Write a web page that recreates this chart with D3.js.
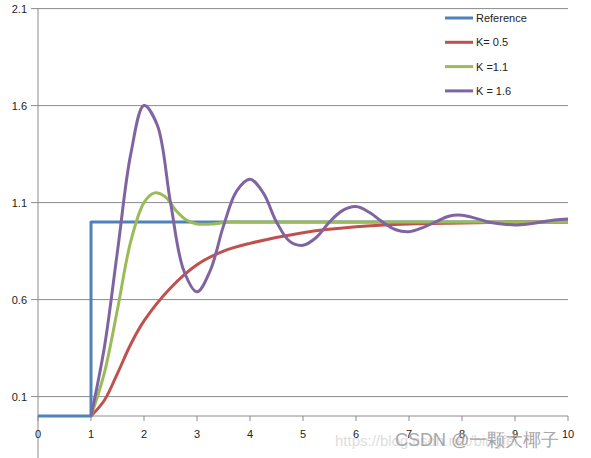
<!DOCTYPE html>
<html lang="en">
<head>
<meta charset="UTF-8" />
<script src="https://d3js.org/d3.v7.min.js"></script>
<style>
  body { margin: 0; background: #fff; font-family: Arial, 'Liberation Sans', sans-serif; }
</style>
</head>
<body>
<svg id="chart" width="591" height="458"></svg>
<script>
const refT = [0, 1, 1, 10];
const refV = [0, 0, 1, 1];
const redT = [1, 1.25, 1.5, 1.75, 2, 2.5, 3, 3.5, 4, 5, 6, 7, 8, 9, 10];
const redV = [0, 0.08, 0.22, 0.37, 0.49, 0.66, 0.78, 0.85, 0.89, 0.945, 0.975, 0.99, 0.995, 1.0, 1.0];
const greenT = [1, 1.25, 1.5, 1.75, 2, 2.2, 2.4, 2.6, 2.8, 3, 3.3, 3.6, 4, 5, 10];
const greenV = [0, 0.22, 0.55, 0.9, 1.1, 1.15, 1.13, 1.06, 1.01, 0.99, 0.99, 1.0, 1.0, 1.0, 1.0];
const purpleT = d3.range(1, 10.001, 0.25);
const purpleV = [0, 0.35, 0.85, 1.35, 1.6, 1.5, 1.1, 0.75, 0.64, 0.75, 0.98, 1.16, 1.22, 1.15, 1.0, 0.9,
  0.88, 0.92, 1.0, 1.06, 1.08, 1.05, 1.0, 0.96, 0.95, 0.97, 1.0, 1.03, 1.035, 1.02, 1.0, 0.99, 0.985, 0.99, 1.0, 1.01, 1.015];
const seriesNames = ["Reference", "K= 0.5", "K =1.1", "K = 1.6"];
const colors = ["#4F81BD", "#C0504D", "#9BBB59", "#8064A2"];
const xTicks = d3.range(0, 11);
const yTicks = [0.1, 0.6, 1.1, 1.6, 2.1];

const svg = d3.select("#chart");
const x = d3.scaleLinear().domain([0, 10]).range([38, 568]);
const y = d3.scaleLinear().domain([0, 2.1]).range([416, 8.6]);

// gridlines
svg.selectAll(".grid").data(yTicks).enter().append("line")
  .attr("x1", 31).attr("x2", 568)
  .attr("y1", d => y(d)).attr("y2", d => y(d))
  .attr("stroke", "#8c8c8c").attr("stroke-width", 1);
svg.selectAll(".ylab").data(yTicks).enter().append("text")
  .attr("x", 27).attr("y", d => y(d) + 4).attr("text-anchor", "end")
  .attr("font-size", 11).attr("fill", "#222").text(d => d.toFixed(1));

// axes
svg.append("line").attr("x1", 38).attr("x2", 38).attr("y1", 8).attr("y2", 458)
  .attr("stroke", "#8c8c8c");
svg.append("line").attr("x1", 38).attr("x2", 568).attr("y1", 416).attr("y2", 416)
  .attr("stroke", "#8c8c8c");
svg.selectAll(".xt").data(xTicks).enter().append("line")
  .attr("x1", d => x(d)).attr("x2", d => x(d)).attr("y1", 416).attr("y2", 421)
  .attr("stroke", "#8c8c8c");
svg.selectAll(".xlab").data(xTicks).enter().append("text")
  .attr("x", d => x(d)).attr("y", 438).attr("text-anchor", "middle")
  .attr("font-size", 11).attr("fill", "#222").text(d => d);

const line = d3.line().x(d => x(d[0])).y(d => y(d[1]));
const smooth = d3.line().x(d => x(d[0])).y(d => y(d[1])).curve(d3.curveCatmullRom);
const data = [
  [refT, refV, line], [redT, redV, smooth], [greenT, greenV, smooth], [purpleT, purpleV, smooth]
];
data.forEach(([ts, vs, gen], i) => {
  svg.append("path").attr("d", gen(ts.map((t, j) => [t, vs[j]])))
    .attr("fill", "none").attr("stroke", colors[i]).attr("stroke-width", 3)
    .attr("stroke-linejoin", "round");
});

// legend
seriesNames.forEach((name, i) => {
  const ly = 18 + i * 24.3;
  svg.append("line").attr("x1", 445).attr("x2", 473).attr("y1", ly).attr("y2", ly)
    .attr("stroke", colors[i]).attr("stroke-width", 3);
  svg.append("text").attr("x", 476).attr("y", ly + 4).attr("font-size", 11)
    .attr("fill", "#222").text(name);
});

// watermark
svg.append("text").attr("x", 335).attr("y", 446).attr("font-size", 15)
  .attr("fill", "#ddd").text("https://blog.csdn.net/bingfei");
svg.append("text").attr("x", 395).attr("y", 446).attr("font-size", 18)
  .attr("fill", "#999").attr("opacity", 0.85).text("CSDN @一颗大椰子");
</script>
</body>
</html>
